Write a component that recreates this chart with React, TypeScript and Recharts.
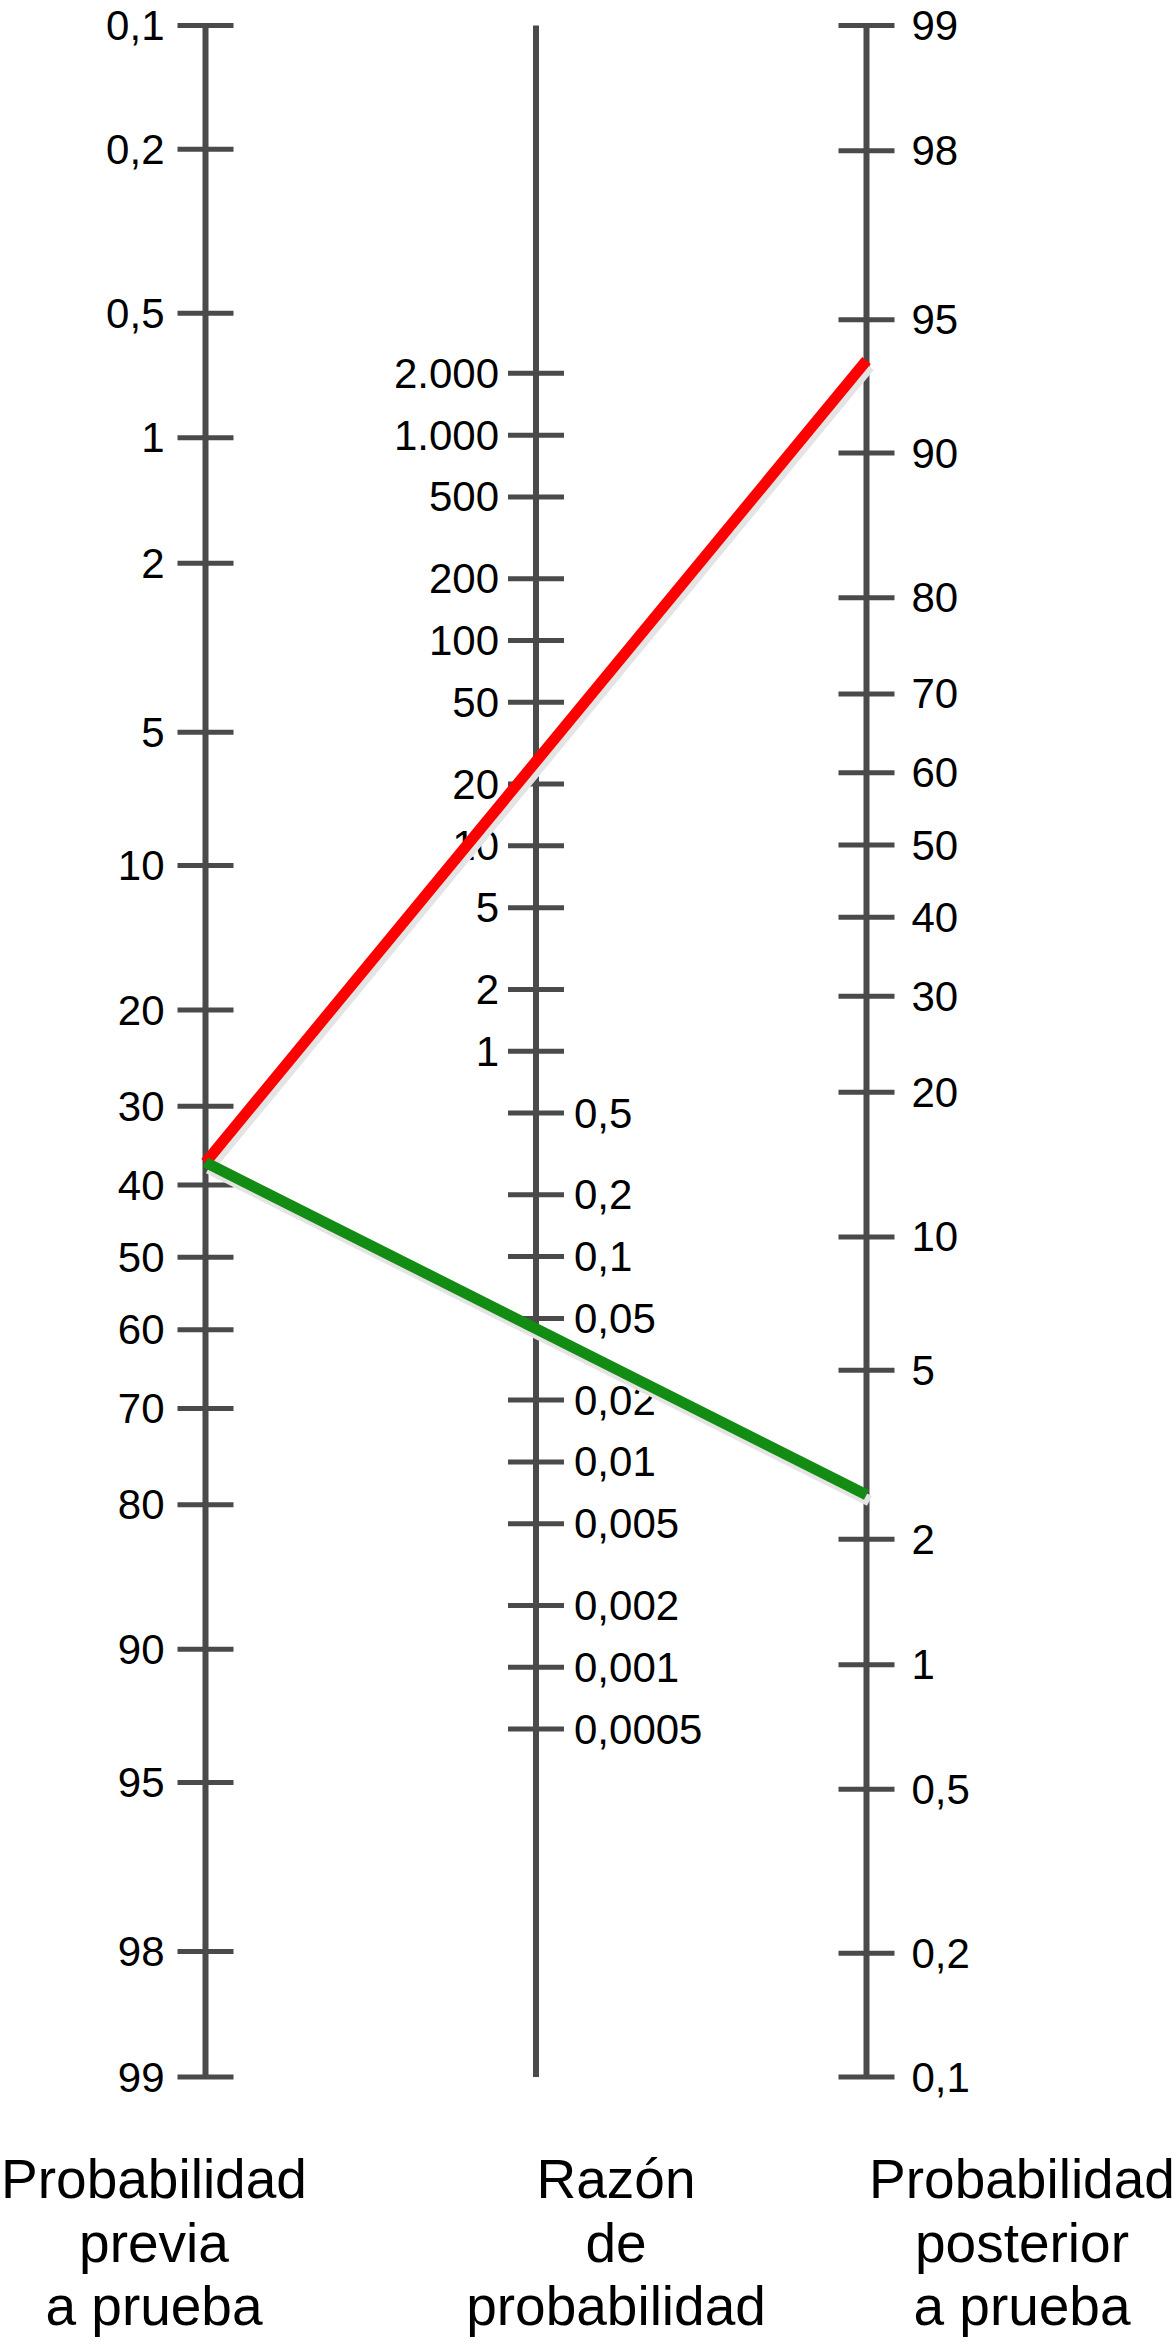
import React from "react";
import { ComposedChart, Scatter, XAxis, YAxis } from "recharts";

// scale values
const preTicks = [0.1, 0.2, 0.5, 1, 2, 5, 10, 20, 30, 40, 50, 60, 70, 80, 90, 95, 98, 99];
const lrTicks = [2000, 1000, 500, 200, 100, 50, 20, 10, 5, 2, 1, 0.5, 0.2, 0.1, 0.05, 0.02, 0.01, 0.005, 0.002, 0.001, 0.0005];
const postTicks = [99, 98, 95, 90, 80, 70, 60, 50, 40, 30, 20, 10, 5, 2, 1, 0.5, 0.2, 0.1];

// worked example (%)
const preTest = 37;
const postPositive = 93.8;
const postNegative = 2.55;

const titles = [
  ["Probabilidad", "previa", "a prueba"],
  ["Razón", "de", "probabilidad"],
  ["Probabilidad", "posterior", "a prueba"],
];

const FONT = '"Liberation Sans", Arial, Helvetica, sans-serif';
const AXIS_COLOR = "#4a4a4a";
const TITLE_SHIFT = [-51.5, 80, 155.5];

const logit = (p: number) => Math.log(p / 100 / (1 - p / 100));
// offset so both probability scales span the same height (0,1..99)
const OFF = (logit(0.1) * -1 - logit(99)) / 2;
const leftV = (p: number) => logit(p) + OFF;
const rightV = (p: number) => -logit(p) - OFF;
const midV = (lr: number) => -Math.log(lr) / 2;
const V_TOP = leftV(0.1);
const V_BOTTOM = leftV(99);

const fmt = (n: number) =>
  n >= 1000 ? String(n).replace(/\B(?=(\d{3})+(?!\d))/g, ".") : String(n).replace(".", ",");

const leftData = preTicks.map((p) => ({ x: 0, v: leftV(p), label: fmt(p), side: "left" }));
const midData = lrTicks.map((lr) => ({ x: 1, v: midV(lr), label: fmt(lr), side: lr >= 1 ? "midLeft" : "midRight" }));
const rightData = postTicks.map((p) => ({ x: 2, v: rightV(p), label: fmt(p), side: "right" }));

const axisLines = [0, 1, 2].map((x) => [
  { x, v: V_TOP },
  { x, v: V_BOTTOM },
]);
const positiveLine = [
  { x: 0, v: leftV(preTest) },
  { x: 2, v: rightV(postPositive) },
];
const negativeLine = [
  { x: 0, v: leftV(preTest) },
  { x: 2, v: rightV(postNegative) },
];

const TickMark = (props: any) => {
  const { cx, cy, payload } = props;
  const side = payload.side;
  let tx = cx;
  let anchor: "start" | "end" = "end";
  if (side === "left") tx = cx - 41;
  else if (side === "midLeft") tx = cx - 37;
  else if (side === "midRight") {
    tx = cx + 38;
    anchor = "start";
  } else {
    tx = cx + 45;
    anchor = "start";
  }
  return (
    <g>
      <line x1={cx - 28} x2={cx + 28} y1={cy} y2={cy} stroke={AXIS_COLOR} strokeWidth={5} />
      <text x={tx} y={cy} textAnchor={anchor} dominantBaseline="central" fontSize={42} fontFamily={FONT} fill="#000">
        {payload.label}
      </text>
    </g>
  );
};

const TitleTick = (props: any) => {
  const { x, y, payload } = props;
  const i = payload.value as number;
  return (
    <g>
      {titles[i].map((line, j) => (
        <text key={j} x={x + TITLE_SHIFT[i]} y={y + 121 + j * 63.5} textAnchor="middle" fontSize={55} fontFamily={FONT} fill="#000">
          {line}
        </text>
      ))}
    </g>
  );
};

const Nothing = () => <g />;

export default function App() {
  return (
    <div style={{ width: 1176, height: 2344, background: "#fff" }}>
      <style>{"body{margin:0}"}</style>
      <ComposedChart width={1176} height={2344} margin={{ top: 25.4, right: 144.25, bottom: 0, left: 40.25 }}>
        <XAxis
          type="number"
          dataKey="x"
          domain={[-0.5, 2.5]}
          ticks={[0, 1, 2]}
          axisLine={false}
          tickLine={false}
          tickSize={0}
          tickMargin={0}
          height={267}
          interval={0}
          tick={<TitleTick />}
        />
        <YAxis type="number" dataKey="v" domain={[V_TOP, V_BOTTOM]} reversed hide width={0} />
        {axisLines.map((d, i) => (
          <Scatter
            key={`axis-${i}`}
            data={d}
            shape={<Nothing />}
            line={{ stroke: AXIS_COLOR, strokeWidth: 6 }}
            isAnimationActive={false}
          />
        ))}
        <Scatter data={leftData} shape={<TickMark />} isAnimationActive={false} />
        <Scatter data={midData} shape={<TickMark />} isAnimationActive={false} />
        <Scatter data={rightData} shape={<TickMark />} isAnimationActive={false} />
        <Scatter
          data={positiveLine}
          shape={<Nothing />}
          line={{ stroke: "#e4e4e4", strokeWidth: 11, transform: "translate(3,6)" }}
          isAnimationActive={false}
        />
        <Scatter
          data={negativeLine}
          shape={<Nothing />}
          line={{ stroke: "#e4e4e4", strokeWidth: 11, transform: "translate(3,6)" }}
          isAnimationActive={false}
        />
        <Scatter data={positiveLine} shape={<Nothing />} line={{ stroke: "#ff0000", strokeWidth: 11 }} isAnimationActive={false} />
        <Scatter data={negativeLine} shape={<Nothing />} line={{ stroke: "#128c12", strokeWidth: 11 }} isAnimationActive={false} />
      </ComposedChart>
    </div>
  );
}
